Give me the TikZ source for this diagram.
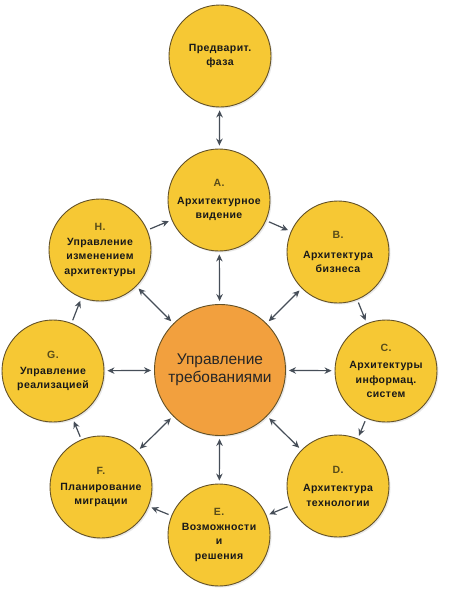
\documentclass[tikz,border=0pt]{standalone}
\usepackage{fontspec}
\usepackage{tikz}
\usetikzlibrary{arrows.meta,shadows}
\newfontfamily\stagefont[LetterSpace=4]{Liberation Sans}
\newfontfamily\corefont{Liberation Sans}
\definecolor{stagefill}{RGB}{246,200,52}
\definecolor{corefill}{RGB}{242,160,62}
\definecolor{rim}{RGB}{100,82,40}
\definecolor{letter}{RGB}{88,76,26}
\definecolor{arrowc}{RGB}{70,78,88}
\tikzset{
  stage/.style={circle,draw=rim,fill=stagefill,line width=.9pt,minimum size=102pt,inner sep=0pt,
    align=center,text=black!90,font=\stagefont\bfseries\fontsize{10.5}{14.5}\selectfont,
    drop shadow={opacity=.18,shadow xshift=1.5pt,shadow yshift=-1.5pt}},
  core/.style={stage,fill=corefill,minimum size=131pt,font=\corefont\fontsize{15.5}{18}\selectfont,text=black!85},
  flow/.style={draw=arrowc,line width=1.2pt,-{Stealth[length=7pt,width=6.5pt]},shorten >=3pt,shorten <=3pt},
  link/.style={flow,{Stealth[length=7pt,width=6.5pt]}-{Stealth[length=7pt,width=6.5pt]}}
}
\newcommand{\stagelbl}[1]{\textcolor{letter}{#1}}

\begin{document}
\begin{tikzpicture}[x=1pt,y=-1pt]
  \useasboundingbox[fill=white] (0,0) rectangle (450,598);
  % phases of the cycle
  \node[stage] (P) at (220,56) {Предварит.\\фаза};
  \node[stage] (A) at (219,200) {\stagelbl{A.}\\[3pt]Архитектурное\\видение};
  \node[stage] (B) at (338,252) {\stagelbl{B.}\\[5pt]Архитектура\\бизнеса};
  \node[stage] (C) at (386,371) {\stagelbl{C.}\\[3pt]Архитектуры\\информац.\\систем};
  \node[stage] (D) at (338,486) {\stagelbl{D.}\\[4pt]Архитектура\\технологии};
  \node[stage] (E) at (219,535) {\stagelbl{E.}\\Возможности\\и\\решения};
  \node[stage] (F) at (101,487) {\stagelbl{F.}\\[1pt]Планирование\\миграции};
  \node[stage] (G) at (53,371) {\stagelbl{G.}\\[1pt]Управление\\реализацией};
  \node[stage] (H) at (100,250) {\stagelbl{H.}\\Управление\\изменением\\архитектуры};
  \node[core] (R) at (220,370) {Управление\\требованиями};
  % cycle
  \draw[link] (P) -- (A);
  \draw[flow] (A) -- (B);
  \draw[flow] (B) -- (C);
  \draw[flow] (C) -- (D);
  \draw[flow] (D) -- (E);
  \draw[flow] (E) -- (F);
  \draw[flow] (F) -- (G);
  \draw[flow] (G) -- (H);
  \draw[flow] (H) -- (A);
  % links to the centre
  \foreach \s in {A,B,C,D,E,F,G,H}
    \draw[link] (R) -- (\s);
\end{tikzpicture}
\end{document}
